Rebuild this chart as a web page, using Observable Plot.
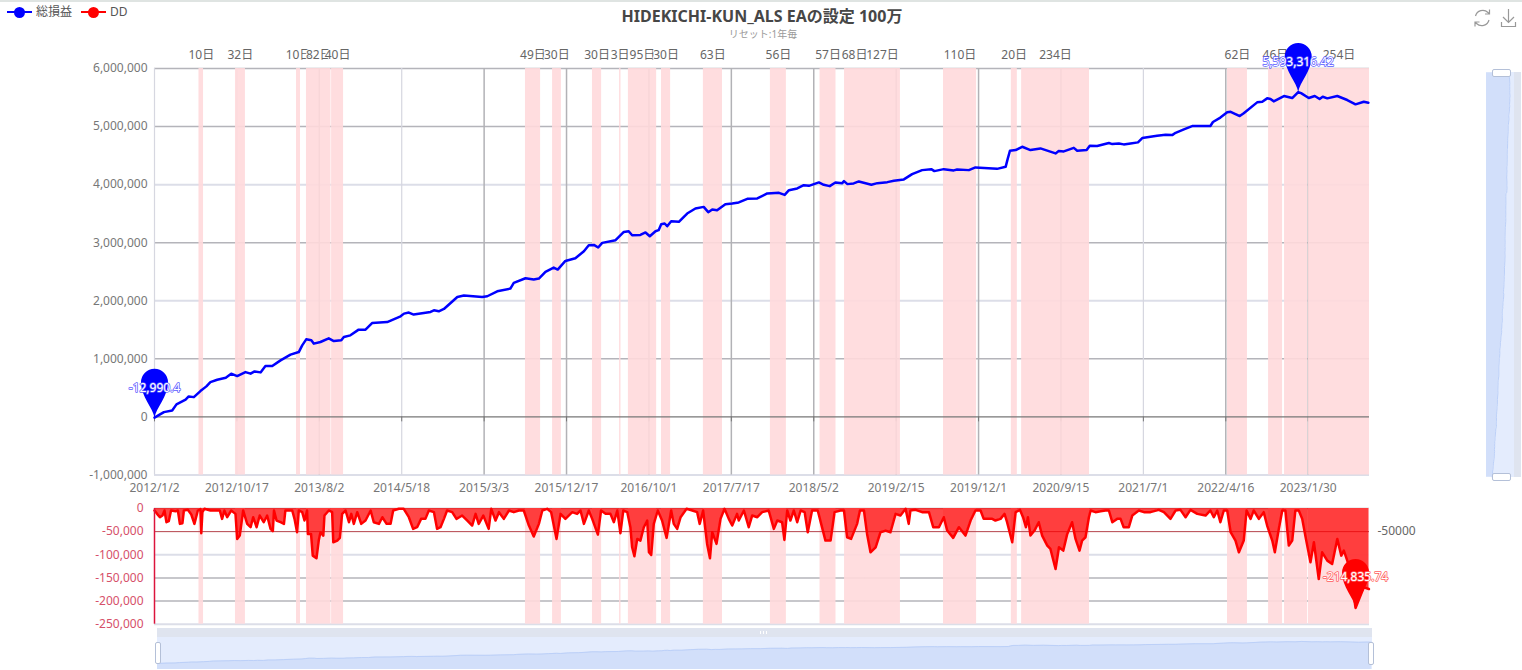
<!DOCTYPE html>
<html><head><meta charset="utf-8">
<script src="https://cdn.jsdelivr.net/npm/d3@7"></script>
<script src="https://cdn.jsdelivr.net/npm/@observablehq/plot@0.6"></script>
<style>
html,body{margin:0;padding:0;background:#fff;width:1522px;height:670px;overflow:hidden;font-family:'Noto Sans','Noto Sans CJK JP',sans-serif}
.abs{position:absolute}
.lay{position:absolute}
.lay svg{overflow:visible}
</style></head><body>
<div class="abs" style="left:0;top:0;width:1522px;height:2px;background:#dfe4e2"></div>

<div class="abs" style="left:7px;top:11px;width:25px;height:2px;background:#0000ff"></div>
<div class="abs" style="left:14px;top:7px;width:11px;height:11px;border-radius:50%;background:#0000ff"></div>
<div class="abs" style="left:36px;top:3px;font-size:12px;line-height:18px;color:#555">総損益</div>
<div class="abs" style="left:81px;top:11px;width:25px;height:2px;background:#ff0000"></div>
<div class="abs" style="left:88px;top:7px;width:11px;height:11px;border-radius:50%;background:#ff0000"></div>
<div class="abs" style="left:110px;top:3px;font-size:12px;line-height:18px;color:#555">DD</div>

<div class="abs" style="left:462px;top:4px;width:600px;text-align:center;font-size:16px;font-weight:700;line-height:24px;color:#464646">HIDEKICHI-KUN_ALS EAの設定 100万</div>
<div class="abs" style="left:463px;top:27px;width:600px;text-align:center;font-size:10px;line-height:14px;color:#9a9a9a">リセット:1年毎</div>

<svg class="abs" style="left:1472px;top:7px" width="48" height="22" fill="none" stroke="#999" stroke-width="1.2">
  <path d="M3.5 9 A7.5 7.5 0 0 1 16 5.5 L17.5 7 M17.5 2.5 V7 H13 M17 13 A7.5 7.5 0 0 1 4.5 16.5 L3 15 M3 19.5 V15 H7.5"/>
  <path d="M36.5 2 V15 M31 10 L36.5 15.5 L42 10 M29.5 15 V19.5 H43.5 V15"/>
</svg>

<div class="abs" style="left:157px;top:628px;width:1215px;height:9px;background:#dfe4ef"></div>
<div class="abs" style="left:157px;top:637px;width:1215px;height:32px;background:#e4ecfd"></div>
<div class="abs" style="left:760px;top:631px;width:7px;height:3px;background:repeating-linear-gradient(90deg,#fff 0 1px,transparent 1px 3px)"></div>
<div class="abs" style="left:1486px;top:72px;width:28px;height:405px;background:#e4ecfd"></div>
<div class="abs" style="left:1514px;top:72px;width:7px;height:405px;background:#dfe4ef"></div>

<div id="top" class="lay" style="left:0;top:0"></div>
<div id="bottom" class="lay" style="left:0;top:490px"></div>
<div id="sliderX" class="lay" style="left:0;top:625px"></div>
<div id="sliderY" class="lay" style="left:1480px;top:60px"></div>

<div class="abs" style="left:155px;top:642px;width:4px;height:20px;background:#fff;border:1px solid #b4c0d8;border-radius:2px"></div>
<div class="abs" style="left:1368px;top:642px;width:4px;height:21px;background:#fff;border:1px solid #b4c0d8;border-radius:2px"></div>
<div class="abs" style="left:1492px;top:69px;width:17px;height:6px;background:#fff;border:1px solid #b4c0d8;border-radius:2px"></div>
<div class="abs" style="left:1492px;top:473px;width:17px;height:6px;background:#fff;border:1px solid #b4c0d8;border-radius:2px"></div>

<script>
const totalDays = 4261;
const tickLabels = ["2012/1/2","2012/10/17","2013/8/2","2014/5/18","2015/3/3","2015/12/17","2016/10/1","2017/7/17","2018/5/2","2019/2/15","2019/12/1","2020/9/15","2021/7/1","2022/4/16","2023/1/30"];
const lightTicks = ["2012/1/2","2012/10/17","2014/5/18","2021/7/1"];
const topTicks = [6000000,5000000,4000000,3000000,2000000,1000000,0,-1000000];
const topLightGrid = [4000000,2000000,-1000000];
const topDarkGrid = [6000000,5000000,3000000,1000000];
const ddTicks = [0,-50000,-100000,-150000,-200000,-250000];
const ddLightGrid = [-100000,-250000];
const ddDarkGrid = [0,-150000,-200000];

const bandLabels = ["10日","32日","10日","82日","40日","49日","30日","30日","3日","95日","30日","63日","56日","57日","68日","127日","110日","20日","234日","62日","46日","","254日"];
const bandStarts = [156,284,498,533,621,1301,1396,1536,1631,1662,1778,1925,2160,2334,2420,2490,2767,3005,3041,3763,3907,3963,4047];
const bandEnds   = [172,319,512,619,663,1354,1427,1568,1636,1761,1810,1992,2216,2390,2490,2616,2883,3026,3279,3833,3956,4044,4261];

const equityDays = [0,33,62,77,109,120,138,161,182,196,220,250,269,290,319,337,351,372,389,413,442,477,506,518,532,550,559,582,611,629,655,664,687,716,740,763,816,863,875,892,909,968,980,997,1015,1062,1085,1149,1167,1202,1248,1260,1301,1330,1348,1371,1400,1414,1441,1476,1506,1523,1541,1556,1570,1617,1646,1663,1675,1704,1722,1737,1757,1768,1777,1789,1798,1812,1839,1868,1897,1926,1942,1956,1973,2002,2026,2049,2079,2114,2149,2190,2210,2225,2254,2277,2295,2330,2347,2368,2388,2412,2418,2430,2452,2470,2514,2535,2570,2593,2628,2657,2692,2724,2735,2768,2803,2815,2856,2879,2955,2985,2991,3000,3020,3043,3072,3107,3160,3171,3189,3224,3236,3269,3280,3306,3347,3359,3382,3399,3423,3449,3464,3516,3546,3569,3581,3610,3639,3703,3712,3738,3762,3774,3806,3820,3867,3885,3902,3914,3925,3961,3990,4011,4021,4048,4069,4086,4097,4113,4148,4183,4212,4241,4257];
const equityValues = [-12990.4,83000,112000,216000,297000,353000,341000,445000,526000,600000,641000,676000,745000,703000,772000,745000,784000,767000,876000,876000,974000,1072000,1117000,1233000,1336000,1319000,1262000,1290000,1353000,1307000,1319000,1376000,1405000,1503000,1503000,1617000,1634000,1733000,1779000,1797000,1762000,1807000,1836000,1819000,1859000,2066000,2090000,2066000,2078000,2164000,2210000,2307000,2388000,2366000,2383000,2497000,2572000,2538000,2686000,2733000,2853000,2957000,2962000,2917000,2997000,3043000,3186000,3198000,3129000,3134000,3176000,3112000,3198000,3216000,3319000,3331000,3284000,3371000,3359000,3503000,3590000,3617000,3526000,3572000,3560000,3664000,3676000,3693000,3755000,3762000,3848000,3859000,3824000,3905000,3934000,3991000,3979000,4038000,3997000,3974000,4038000,4026000,4060000,4009000,4021000,4055000,3997000,4026000,4043000,4066000,4090000,4181000,4250000,4267000,4233000,4267000,4245000,4262000,4250000,4297000,4272000,4307000,4422000,4583000,4595000,4652000,4595000,4624000,4538000,4578000,4572000,4634000,4583000,4595000,4669000,4664000,4716000,4698000,4710000,4693000,4710000,4728000,4802000,4841000,4859000,4853000,4893000,4952000,5009000,5009000,5078000,5155000,5245000,5255000,5181000,5228000,5417000,5428000,5486000,5474000,5434000,5526000,5491000,5593316.42,5575000,5491000,5526000,5474000,5514000,5486000,5526000,5457000,5383000,5428000,5410000];

const ddDays = [0,9,19,28,35,42,50,58,74,82,89,98,103,117,129,140,152,161,164,168,175,196,214,229,237,245,255,269,284,290,299,311,325,337,346,358,369,383,395,407,415,419,428,442,454,459,483,491,500,506,518,526,535,538,549,555,568,576,582,592,596,611,623,627,641,650,658,670,682,690,699,711,725,740,758,769,787,799,814,828,837,857,874,892,907,921,935,950,962,980,991,1003,1015,1026,1044,1059,1079,1097,1114,1126,1137,1153,1172,1181,1196,1208,1225,1243,1260,1278,1295,1313,1330,1348,1360,1377,1391,1410,1424,1441,1465,1482,
1494,1506,1523,1535,1555,1566,1582,1599,1611,1623,1634,1644,1658,1669,1675,1683,1693,1704,1716,1728,1734,1742,1751,1765,1780,1796,1812,1821,1833,1845,1866,1886,1903,1912,1924,1938,1948,1956,1971,1985,1999,2014,2026,2043,2049,2067,2084,2096,2114,2131,2154,2172,2184,2201,2209,2219,2230,2242,2254,2266,2280,2291,2306,2326,2338,2353,2371,2385,2406,2418,2429,2443,2464,2474,2488,2499,2511,2529,2546,2564,2581,2599,2616,2634,2645,2651,2669,2692,2716,2731,2751,2768,2780,2801,2821,2844,2862,2879,2897,2908,2938,2949,2967,2981,2990,3008,
3020,3035,3046,3056,3063,3072,3086,3101,3113,3131,3142,3160,3172,3187,3201,3218,3230,3244,3253,3265,3277,3283,3300,3318,3335,3347,3359,3376,3388,3399,3417,3429,3452,3470,3493,3522,3540,3563,3581,3598,3616,3633,3657,3686,3703,3715,3727,3738,3750,3762,3774,3791,3803,3820,3830,3844,3855,3873,3890,3902,3920,3929,3943,3955,3966,3978,3990,4001,4013,4025,4037,4054,4066,4083,4095,4113,4130,4148,4162,4171,4183,4194,4212,4241,4259];
const ddValues = [-4300,-11600,-18800,-15200,-4300,-29600,-27400,-4300,-5800,-4300,-33200,-31800,-4300,-2900,-13000,-33200,-4300,-1400,-53400,-7900,-700,-4300,-4300,-4300,-22400,-4300,-18800,-4300,-11600,-65700,-58500,-4300,-33200,-40400,-18800,-40400,-15200,-29600,-15200,-44000,-49100,-4300,-26000,-29600,-33200,-4300,-4300,-22400,-51300,-4300,-7900,-26000,-4300,-54900,-54900,-101800,-107600,-69300,-51300,-58500,-15200,-4300,-7900,-72900,-69300,-63500,-11600,-4300,-29600,-11600,-33200,-7900,-33200,-26000,-4300,-29600,-33200,-18800,-33200,-33200,-4300,-700,-700,-18800,-44000,-40400,-22400,-22400,-4300,-7900,-44000,-40400,-22400,-4300,-7900,-22400,-15200,-26000,-36800,-11600,-33200,-15200,-44000,-700,-26000,-7900,-22400,-4300,-7900,-4300,-4300,-36800,-60600,-33200,-4300,-700,-7900,-65700,-11600,-22400,-7900,-11600,
-4300,-33200,-4300,-22400,-56300,-4300,-11600,-11600,-29600,-4300,-53400,-4300,-7900,-40400,-83800,-103200,-65700,-69300,-40400,-26000,-94600,-100400,-33200,-4300,-26000,-63500,-4300,-33200,-44000,-18800,-700,-4300,-7900,-33200,-4300,-76500,-107600,-51300,-76500,-22400,-700,-22400,-36800,-11600,-26000,-4300,-40400,-15200,-18800,-7900,-4300,-44000,-26000,-29600,-67900,-4300,-26000,-4300,-29600,-4300,-7900,-51300,-4300,-4300,-33200,-69300,-69300,-7900,-4300,-4300,-62100,-65700,-33200,-4300,-4300,-54900,-94600,-83800,-51300,-47700,-51300,-11600,-15200,-700,-33200,-4300,-2900,-7900,-7900,-40400,-40400,-18800,-47700,-63500,-40400,-58500,-26000,-4300,-4300,-22400,-22400,-26000,-22400,-11600,-29600,-72900,
-7900,-2900,-18800,-40400,-18800,-58500,-47700,-29600,-58500,-80100,-87400,-130700,-83800,-91000,-54900,-29600,-65700,-91000,-69300,-62100,-18800,-4300,-7900,-5800,-4300,-4300,-29600,-22400,-22400,-40400,-40400,-15200,-4300,-7900,-7900,-2900,-7900,-22400,-4300,-2900,-18800,-2900,-11600,-15200,-4300,-18800,-4300,-29600,-4300,-4300,-51300,-69300,-94600,-69300,-4300,-22400,-4300,-22400,-7900,-36800,-69300,-94600,-44000,-4300,-4300,-80100,-69300,-4300,-4300,-22400,-62100,-116200,-72900,-152300,-94600,-112600,-119900,-65700,-101800,-91000,-112600,-134300,-214835.74,-170400,-174000];

const dayToDate = d => new Date(Date.UTC(2012, 0, 2 + d));
const labelToDate = s => { const [y,m,d] = s.split("/").map(Number); return new Date(Date.UTC(y, m - 1, d)); };
const xDomain = [dayToDate(0), dayToDate(totalDays)];
const tickDates = tickLabels.map(labelToDate);
const lightTickDates = lightTicks.map(labelToDate);
const darkTickDates = tickLabels.filter(t => !lightTicks.includes(t)).map(labelToDate);
const equity = equityDays.map((d, i) => ({date: dayToDate(d), day: d, value: equityValues[i]}));
const dd = ddDays.map((d, i) => ({date: dayToDate(d), value: ddValues[i]}));
const bands = bandLabels.map((label, i) => ({label, x1: dayToDate(bandStarts[i]), x2: dayToDate(bandEnds[i]), mid: dayToDate((bandStarts[i] + bandEnds[i]) / 2)}));

const pin = {
  draw(ctx) {
    ctx.moveTo(0, 0);
    ctx.bezierCurveTo(-1.5, -10, -13.5, -21, -13.5, -35.5);
    ctx.arc(0, -35.5, 13.5, Math.PI, 0);
    ctx.bezierCurveTo(13.5, -21, 1.5, -10, 0, 0);
    ctx.closePath();
  }
};
const fmt = v => d3.format(",")(v).replace("\u2212", "-");
const font = "'Noto Sans','Noto Sans CJK JP',sans-serif";
const style = {background: "transparent", fontFamily: font, fontSize: "12px", overflow: "visible"};
const DARK = "#b4b4ba", LIGHT = "#dcdee8";
const BAND = "#ffd9dc";

const peak = equity.reduce((a, b) => b.value > a.value ? b : a);
const start = equity[0];
const trough = dd.reduce((a, b) => b.value < a.value ? b : a);

document.getElementById("top").append(Plot.plot({
  width: 1522, height: 500, marginLeft: 154, marginRight: 153, marginTop: 68, marginBottom: 25.5,
  style,
  x: {type: "utc", domain: xDomain},
  y: {domain: [-1000000, 6000000]},
  marks: [
    Plot.ruleY(topLightGrid, {stroke: LIGHT, strokeWidth: 2}),
    Plot.ruleY(topDarkGrid, {stroke: DARK, strokeWidth: 1.5}),
    Plot.ruleX(lightTickDates, {stroke: "#d6d7e0", strokeWidth: 1.2}),
    Plot.ruleX(darkTickDates, {stroke: "#b2b2b6", strokeWidth: 1.5}),
    Plot.ruleX(tickDates, {y1: 0, y2: -85000, stroke: "#777"}),
    Plot.rect(bands, {x1: "x1", x2: "x2", y1: -1000000, y2: 6000000, fill: BAND, fillOpacity: 0.9}),
    Plot.ruleY([0], {stroke: "#777", strokeWidth: 1.2}),
    Plot.axisY({ticks: topTicks, tickFormat: fmt, tickSize: 0, tickPadding: 7, fill: "#777", label: null}),
    Plot.axisX({ticks: tickDates, tickFormat: (d, i) => tickLabels[i], tickSize: 0, tickPadding: 8, fill: "#777", label: null}),
    Plot.text(bands, {x: "mid", y: 6000000, dy: -13, text: "label", fill: "#666", stroke: "white", strokeWidth: 2, fontSize: 12}),
    Plot.line(equity, {x: "date", y: "value", stroke: "#0000ff", strokeWidth: 2.5}),
    Plot.dot([start, peak], {x: "date", y: "value", symbol: pin, r: 10, fill: "#0000ff", stroke: "none"}),
    Plot.text([start], {x: "date", y: "value", dy: -30, text: () => "-12,990.4", fill: "white", stroke: "#5c5cff", strokeWidth: 1.5, fontSize: 12}),
    Plot.text([peak], {x: "date", y: "value", dy: -30, text: () => "5,593,316.42", fill: "white", stroke: "#5c5cff", strokeWidth: 1.5, fontSize: 12})
  ]
}));

document.getElementById("bottom").append(Plot.plot({
  width: 1522, height: 140, marginLeft: 154, marginRight: 153, marginTop: 18, marginBottom: 6.3,
  style,
  x: {type: "utc", domain: xDomain, axis: null},
  y: {domain: [-250000, 0]},
  marks: [
    Plot.ruleY(ddLightGrid, {stroke: LIGHT, strokeWidth: 2}),
    Plot.ruleY(ddDarkGrid, {stroke: DARK, strokeWidth: 1.5}),
    Plot.rect(bands, {x1: "x1", x2: "x2", y1: -250000, y2: 0, fill: BAND, fillOpacity: 0.9}),
    Plot.ruleY([-50000], {stroke: "#b5444c", strokeWidth: 1}),
    Plot.areaY(dd, {x: "date", y1: 0, y2: "value", fill: "#ff0000", fillOpacity: 0.72}),
    Plot.line(dd, {x: "date", y: "value", stroke: "#ff0000", strokeWidth: 2.5}),
    Plot.ruleX([xDomain[0]], {stroke: "#dc143c", strokeWidth: 1.5}),
    Plot.axisY({ticks: ddTicks, tickFormat: fmt, tickSize: 0, tickPadding: 11, fill: "#d6506a", label: null}),
    Plot.text([-50000], {x: xDomain[1], y: d => d, dx: 8, text: () => "-50000", textAnchor: "start", fill: "#666", stroke: "white", strokeWidth: 2, fontSize: 12}),
    Plot.dot([trough], {x: "date", y: "value", symbol: pin, r: 10, fill: "#ff0000", stroke: "none"}),
    Plot.text([trough], {x: "date", y: "value", dy: -31, text: () => "-214,835.74", fill: "white", stroke: "#ff5c5c", strokeWidth: 1.5, fontSize: 12})
  ]
}));

document.getElementById("sliderX").append(Plot.plot({
  width: 1522, height: 45, marginLeft: 157, marginRight: 150, marginTop: 12, marginBottom: 1,
  style,
  x: {type: "utc", domain: xDomain, axis: null},
  y: {domain: [-1540000, 6600000], axis: null},
  marks: [
    Plot.areaY(equity, {x: "date", y1: -1540000, y2: "value", fill: "#d2dffa"}),
    Plot.line(equity, {x: "date", y: "value", stroke: "#bcd0f8", strokeWidth: 1})
  ]
}));

document.getElementById("sliderY").append(Plot.plot({
  width: 42, height: 430, marginLeft: 6, marginRight: 8, marginTop: 12, marginBottom: 13.5,
  style,
  x: {domain: [-1800000, 7000000], axis: null},
  y: {domain: [0, totalDays], axis: null},
  marks: [
    Plot.areaX(equity, {y: "day", x1: -1800000, x2: "value", fill: "#d2dffa"}),
    Plot.line(equity, {x: "value", y: "day", stroke: "#bcd0f8", strokeWidth: 1})
  ]
}));
</script>
</body></html>
